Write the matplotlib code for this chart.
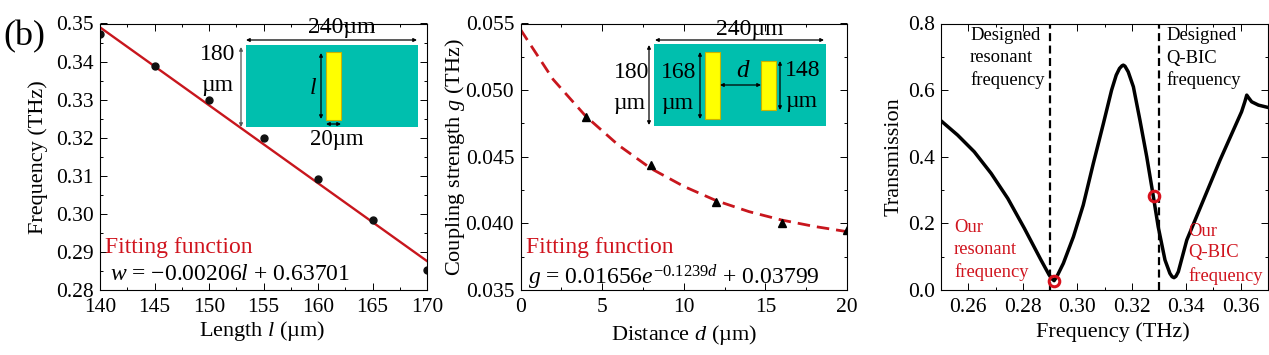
import matplotlib as mpl
mpl.use("Agg")
import matplotlib.pyplot as plt
from matplotlib.patches import Rectangle
from matplotlib.ticker import MultipleLocator, FormatStrFormatter

plt.rcParams['font.family'] = ['Liberation Serif', 'DejaVu Serif']
plt.rcParams['mathtext.fontset'] = 'custom'
plt.rcParams['mathtext.rm'] = 'Liberation Serif'
plt.rcParams['mathtext.it'] = 'Liberation Serif:italic'
plt.rcParams['mathtext.bf'] = 'Liberation Serif:bold'
plt.rcParams['mathtext.fallback'] = 'stix'

length = [140, 145, 150, 155, 160, 165, 170]
freq = [0.3472, 0.3388, 0.3299, 0.3199, 0.3091, 0.2985, 0.2853]
fit_length = [140, 170]
fit_freq = [0.3490, 0.2876]

dist = [4, 8, 12, 16, 20]
coupling = [0.0480, 0.0444, 0.0416, 0.0400, 0.0395]
fit_dist = [0, 2, 4, 6, 8, 10, 12, 14, 16, 18, 20]
fit_g = [0.05455, 0.05080, 0.04804, 0.04587, 0.04411, 0.04278, 0.04170,
         0.04088, 0.04025, 0.03977, 0.03938]

f = [0.25, 0.2561, 0.2622, 0.2684, 0.2745, 0.2806, 0.2867, 0.2897, 0.2908, 0.2915,
     0.2925, 0.2949, 0.2986, 0.3022, 0.3059, 0.3096, 0.3126, 0.3143, 0.3155, 0.3164,
     0.3169, 0.3175, 0.3187, 0.3206, 0.323, 0.3255, 0.3279, 0.3297, 0.3322, 0.334,
     0.3348, 0.3355, 0.3362, 0.3371, 0.3402, 0.3463, 0.3524, 0.3573, 0.3603, 0.3615,
     0.3622, 0.3628, 0.364, 0.3665, 0.37]
trans = [0.508, 0.465, 0.415, 0.350, 0.275, 0.185, 0.090, 0.045, 0.033, 0.028,
         0.040, 0.080, 0.160, 0.255, 0.380, 0.500, 0.600, 0.645, 0.665, 0.673,
         0.675, 0.672, 0.655, 0.610, 0.510, 0.400, 0.282, 0.190, 0.090, 0.050,
         0.040, 0.037, 0.041, 0.055, 0.150, 0.270, 0.390, 0.480, 0.535, 0.565,
         0.585, 0.578, 0.565, 0.555, 0.548]
our_f = [0.2915, 0.3280]
our_t = [0.028, 0.282]
designed_f = [0.29, 0.33]

W, H = 1269, 355
RED = '#d0141e'
TEAL = '#00bfae'
YELLOW = '#ffff00'

fig = plt.figure(figsize=(W / 100, H / 100), dpi=100)


def make_axes(left, right, top=23.5, bottom=290):
    ax = fig.add_axes([left / W, 1 - bottom / H, (right - left) / W, (bottom - top) / H])
    ax.tick_params(which='both', direction='in', top=True, right=True, width=0.7)
    ax.tick_params(which='major', length=5, labelsize=15.5)
    ax.tick_params(which='minor', length=2.5)
    ax.tick_params(axis='x', which='major', pad=6)
    ax.tick_params(axis='y', which='major', pad=4.5)
    for s in ax.spines.values():
        s.set_linewidth(0.8)
    return ax


ax1 = make_axes(100, 427)
ax1.plot(fit_length, fit_freq, color='#c8161d', lw=1.7)
ax1.plot(length, freq, 'o', color='#111111', ms=5)
ax1.set_xlim(140, 170)
ax1.set_ylim(0.28, 0.35)
ax1.xaxis.set_major_locator(MultipleLocator(5))
ax1.xaxis.set_minor_locator(MultipleLocator(2.5))
ax1.yaxis.set_major_locator(MultipleLocator(0.01))
ax1.yaxis.set_minor_locator(MultipleLocator(0.005))
ax1.yaxis.set_major_formatter(FormatStrFormatter('%.2f'))
ax1.set_xlabel('Length $l$ (µm)', fontsize=16)
ax1.set_ylabel('Frequency (THz)', fontsize=16)
ax1.xaxis.set_label_coords(0.497, -0.108)
ax1.yaxis.set_label_coords(-0.158, 0.5)

ax2 = make_axes(520.5, 847)
ax2.plot(fit_dist, fit_g, color='#c8161d', lw=2, ls=(0, (4.5, 2.5)))
ax2.plot(dist, coupling, '^', color='black', ms=5.5)
ax2.set_xlim(0, 20)
ax2.set_ylim(0.035, 0.055)
ax2.xaxis.set_major_locator(MultipleLocator(5))
ax2.xaxis.set_minor_locator(MultipleLocator(2.5))
ax2.yaxis.set_major_locator(MultipleLocator(0.005))
ax2.yaxis.set_minor_locator(MultipleLocator(0.0025))
ax2.yaxis.set_major_formatter(FormatStrFormatter('%.3f'))
ax2.set_xlabel('Distance $d$ (µm)', fontsize=16)
ax2.set_ylabel('Coupling strength $g$ (THz)', fontsize=16)
ax2.xaxis.set_label_coords(0.5, -0.122)
ax2.yaxis.set_label_coords(-0.165, 0.5)

ax3 = make_axes(941, 1268)
ax3.plot(f, trans, color='black', lw=2.5)
for fd in designed_f:
    ax3.axvline(fd, color='black', lw=1.6, ls=(0, (3.6, 2)))
ax3.plot(our_f, our_t, 'o', mfc='none', mec='#d8101c', mew=2.2, ms=7.6)
ax3.set_xlim(0.25, 0.37)
ax3.set_ylim(0, 0.8)
ax3.xaxis.set_major_locator(MultipleLocator(0.02))
ax3.xaxis.set_minor_locator(MultipleLocator(0.01))
ax3.yaxis.set_major_locator(MultipleLocator(0.2))
ax3.yaxis.set_minor_locator(MultipleLocator(0.1))
ax3.xaxis.set_major_formatter(FormatStrFormatter('%.2f'))
ax3.yaxis.set_major_formatter(FormatStrFormatter('%.1f'))
ax3.set_xlabel('Frequency (THz)', fontsize=16)
ax3.set_ylabel('Transmission', fontsize=16)
ax3.xaxis.set_label_coords(0.525, -0.122)
ax3.yaxis.set_label_coords(-0.116, 0.5)

# overlay in picture pixels for the insets and notes
ov = fig.add_axes([0, 0, 1, 1], zorder=5)
ov.set_xlim(0, W)
ov.set_ylim(H, 0)
ov.axis('off')
ov.patch.set_alpha(0)


def label(x, y, s, size=17, color='black', ha='center'):
    ov.text(x, y, s, fontsize=size, color=color, ha=ha, va='center')


def box(x0, y0, x1, y1, color, edge='none'):
    ov.add_patch(Rectangle((x0, y0), x1 - x0, y1 - y0, fc=color, ec=edge, lw=0.8))


def arrow(x0, y0, x1, y1, color='black'):
    ov.annotate('', xy=(x1, y1), xytext=(x0, y0),
                arrowprops=dict(arrowstyle='<|-|>', color=color, lw=0.9, mutation_scale=5,
                                shrinkA=0, shrinkB=0))


label(3, 37, '(b)', size=26, ha='left')

# inset of panel 1
box(246, 45, 418, 127, TEAL)
box(326, 52, 341, 120, YELLOW, edge='#c8b400')
arrow(246, 40, 417, 40)
arrow(241, 47, 241, 127, color='#555555')
arrow(321, 53, 321, 119)
arrow(326, 124, 341, 124)
label(342, 27, '240µm')
label(218, 55, '180')
label(217, 85, 'µm')
label(313, 88, '$l$')
label(337, 140, '20µm', size=16.5)
label(105, 248, 'Fitting function', size=17, color=RED, ha='left')
label(110, 275, r'$w$ = −0.00206$l$ + 0.63701', size=17, ha='left')

# inset of panel 2
box(654, 44, 826, 126, TEAL)
box(705, 52, 720, 119, YELLOW, edge='#c8b400')
box(761, 61, 776, 110, YELLOW, edge='#c8b400')
arrow(655, 40, 824, 40)
arrow(649, 45, 649, 125)
arrow(700, 52, 700, 119)
arrow(720, 85, 761, 85)
arrow(780, 61, 780, 110)
label(750, 30, '240µm')
label(632, 73, '180')
label(629, 103, 'µm')
label(679, 73, '168')
label(677, 103, 'µm')
label(743, 71, '$d$', size=18)
label(803, 71, '148')
label(801, 102, 'µm')
label(526, 248, 'Fitting function', size=17, color=RED, ha='left')
label(528, 277, r'$g$ = 0.01656$e^{-0.1239d}$ + 0.03799', size=17, ha='left')

# notes of panel 3
for y, s in zip([35, 58, 80], ['Designed', 'resonant', 'frequency']):
    label(970, y, s, size=13.4, ha='left')
for y, s in zip([35, 58, 80], ['Designed', 'Q-BIC', 'frequency']):
    label(1166, y, s, size=13.4, ha='left')
for y, s in zip([227, 250, 272], ['Our', 'resonant', 'frequency']):
    label(954, y, s, size=13.4, color=RED, ha='left')
for y, s in zip([232, 253, 276], ['Our', 'Q-BIC', 'frequency']):
    label(1188, y, s, size=13.4, color=RED, ha='left')

fig.savefig('out.png', dpi=100)
